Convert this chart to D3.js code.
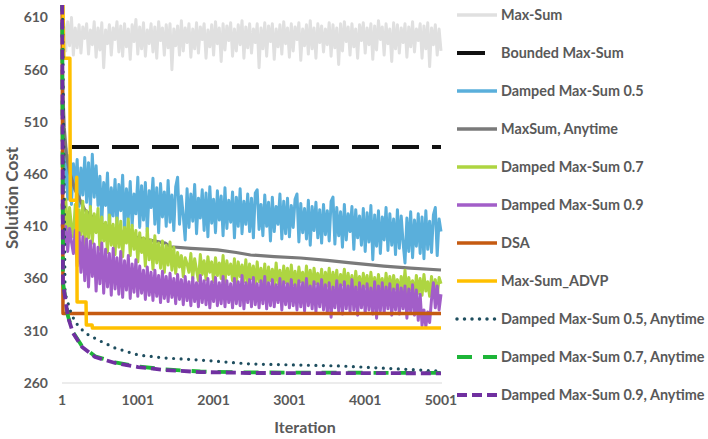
<!DOCTYPE html>
<html>
<head>
<meta charset="utf-8">
<script src="https://cdn.jsdelivr.net/npm/d3@7"></script>
<style>
  body { margin: 0; background: #fff; }
  text { font-family: Lato, "Open Sans", sans-serif; fill: #595959; font-weight: bold; }
</style>
</head>
<body>
<div id="svgDiv"></div>
<script>
// tick labels
var yTicks = [260, 310, 360, 410, 460, 510, 560, 610];
var xTicks = [1, 1001, 2001, 3001, 4001, 5001];

// noisy series, read every 25 iterations (1, 26, ..., 5001)
var maxSum = [592, 604, 578, 606, 583, 610, 574, 600, 581, 603, 576, 601, 590, 604, 575, 598, 584, 606, 572, 600,
  579, 605, 562, 598, 585, 603, 574, 600, 589, 606, 577, 602, 573, 604, 582, 599, 570, 603, 587, 608,
  575, 601, 580, 605, 573, 598, 585, 604, 577, 601, 571, 606, 588, 600, 574, 603, 581, 604, 560, 599,
  583, 602, 574, 607, 578, 600, 586, 604, 572, 599, 580, 605, 576, 601, 589, 604, 571, 598, 582, 603,
  574, 606, 585, 600, 568, 604, 579, 602, 588, 605, 573, 599, 578, 603, 584, 607, 571, 601, 581, 604,
  576, 599, 586, 604, 562, 600, 580, 605, 573, 602, 587, 604, 570, 599, 582, 603, 575, 606, 585, 600,
  572, 604, 578, 601, 589, 605, 569, 599, 583, 603, 575, 607, 580, 600, 571, 604, 586, 602, 577, 599,
  584, 605, 573, 603, 581, 600, 565, 604, 578, 606, 587, 601, 574, 604, 582, 599, 571, 603, 588, 605,
  576, 600, 584, 604, 570, 602, 579, 607, 589, 601, 574, 604, 585, 599, 568, 605, 580, 603, 576, 600,
  586, 604, 572, 601, 582, 606, 577, 599, 588, 604, 571, 602, 580, 605, 563, 600, 584, 603, 574, 599,
  578];

var damped05 = [482, 446, 485, 436, 478, 431, 470, 448, 474, 429, 466, 440, 476, 433, 471, 427, 479, 438, 468, 430,
  458, 414, 452, 430, 461, 408, 447, 420, 455, 411, 450, 425, 459, 406, 446, 418, 453, 410, 441, 422,
  457, 409, 449, 416, 452, 405, 444, 428, 456, 412, 447, 404, 451, 419, 443, 410, 454, 414, 440, 406,
  448, 457, 412, 439, 420, 397, 446, 409, 441, 415, 450, 403, 437, 418, 445, 406, 442, 400, 448, 413,
  436, 404, 444, 416, 439, 401, 447, 408, 435, 414, 443, 399, 438, 410, 446, 403, 434, 412, 441, 405,
  437, 399, 442, 445, 407, 431, 401, 440, 410, 433, 396, 438, 405, 429, 412, 441, 398, 434, 403, 437,
  400, 430, 409, 436, 441, 395, 432, 404, 427, 398, 435, 392, 429, 406, 433, 399, 426, 394, 431, 402,
  425, 396, 434, 438, 393, 428, 401, 424, 390, 431, 397, 422, 405, 429, 388, 426, 399, 420, 392, 427,
  386, 423, 395, 430, 378, 421, 391, 425, 384, 419, 397, 428, 387, 422, 392, 417, 383, 426, 389, 420,
  394, 375, 418, 386, 424, 380, 416, 391, 422, 384, 419, 379, 425, 388, 415, 385, 421, 428, 382, 417,
  405];

var damped07 = [432, 404, 436, 398, 428, 410, 400, 431, 395, 426, 402, 434, 392, 425, 399, 429, 394, 422, 404, 427,
  388, 419, 396, 414, 385, 421, 392, 412, 383, 418, 390, 415, 381, 409, 394, 417, 382, 411, 388, 406,
  376, 404, 385, 399, 372, 408, 378, 397, 369, 401, 375, 394, 370, 396, 366, 392, 373, 395, 368, 390,
  365, 385, 371, 382, 362, 380, 374, 366, 384, 360, 379, 368, 358, 383, 364, 377, 359, 381, 366, 376,
  357, 380, 363, 375, 360, 382, 356, 377, 364, 374, 358, 379, 355, 376, 362, 373, 357, 378, 354, 374,
  360, 372, 352, 376, 357, 370, 353, 374, 350, 371, 358, 369, 352, 375, 355, 368, 350, 372, 356, 370,
  351, 373, 354, 367, 349, 371, 357, 366, 350, 372, 353, 368, 348, 370, 355, 365, 351, 369, 347, 366,
  353, 370, 349, 366, 352, 368, 346, 364, 354, 369, 348, 365, 351, 363, 345, 367, 350, 362, 347, 365,
  352, 363, 345, 366, 349, 361, 346, 364, 351, 360, 344, 365, 348, 362, 345, 363, 350, 359, 343, 362,
  347, 368, 345, 361, 349, 358, 342, 363, 346, 360, 344, 364, 348, 357, 343, 362, 346, 359, 342, 361,
  355];

var damped09 = [412, 392, 410, 386, 408, 395, 384, 406, 372, 404, 366, 400, 358, 398, 352, 396, 362, 393, 348, 390,
  355, 394, 346, 388, 352, 384, 344, 389, 350, 380, 345, 386, 342, 377, 349, 382, 341, 374, 347, 378,
  343, 372, 346, 368, 340, 371, 344, 366, 339, 368, 343, 363, 337, 367, 341, 362, 338, 365, 342, 360,
  336, 364, 340, 359, 335, 362, 339, 357, 334, 361, 338, 356, 333, 363, 337, 358, 335, 360, 332, 357,
  338, 361, 334, 356, 336, 362, 333, 358, 337, 355, 332, 360, 336, 357, 334, 363, 331, 356, 337, 359,
  333, 361, 335, 355, 332, 358, 336, 362, 331, 356, 334, 359, 333, 354, 337, 360, 330, 357, 335, 355,
  332, 359, 334, 354, 330, 358, 333, 356, 329, 360, 334, 353, 331, 357, 328, 355, 333, 359, 330, 354,
  327, 356, 323, 352, 332, 358, 329, 354, 326, 357, 331, 353, 328, 359, 330, 352, 325, 356, 332, 353,
  327, 355, 330, 351, 326, 357, 322, 353, 329, 356, 327, 352, 331, 355, 325, 350, 330, 354, 326, 351,
  331, 353, 322, 350, 328, 354, 325, 349, 320, 345, 315, 330, 314, 328, 318, 340, 356, 332, 353, 330,
  345];

// smooth / step series: [iteration, cost]
var maxSumAnytime = [[1, 560], [30, 505], [60, 478], [100, 462], [173, 445], [300, 426],
  [477, 414], [700, 407], [1006, 399], [1363, 394], [1429, 390.5], [1700, 389],
  [2051, 387.5], [2300, 385], [2488, 382.6], [2800, 381], [3149, 379.7],
  [3500, 377.5], [3810, 375], [4247, 372], [4600, 370], [5001, 368.2]];
var boundedMaxSum = [[1, 486], [5001, 486]];
var dsa = [[1, 680], [14, 326.5], [5001, 326.5]];
var advp = [[1, 680], [25, 571], [105, 571], [110, 435], [190, 435], [195, 457],
  [200, 337.6], [318, 337.6], [322, 315.5], [398, 315.5], [402, 312.7], [5001, 312.7]];
var anytime05 = [[1, 680], [41, 346.2], [107, 329.9], [173, 318.4], [305, 307.9],
  [477, 301.2], [702, 293.5], [1006, 286.8], [1363, 283.9], [1826, 282],
  [2488, 278.2], [3679, 276.3], [4962, 271.5], [5001, 271.4]];
var anytime07 = [[1, 680], [14, 356.5], [80, 324], [146, 308.6], [266, 295.2], [437, 285.6],
  [702, 279.8], [1006, 275.9], [1363, 273], [1826, 271], [2488, 270.1], [5001, 269.6]];
var anytime09 = [[1, 680], [14, 355.8], [80, 323.2], [146, 307.9], [266, 294.5], [437, 284.9],
  [702, 279.2], [1006, 275.3], [1363, 272.4], [1826, 270.5], [2488, 269.6], [5001, 269.3]];

var svg, x, y;

document.addEventListener('DOMContentLoaded', function(){

    svg = d3.select("#svgDiv")
        .append("svg")
        .attr("width", 708)
        .attr("height", 439);

    x = d3.scaleLinear().domain([1, 5001]).range([62, 441]);
    y = d3.scaleLinear().domain([260, 622]).range([383, 5]);

    drawAxes();
    drawSeries();
    drawLegend();
});

//values are evenly spaced over iterations 1..5001
function noisyPoints(values){
    var step = 5000 / (values.length - 1);
    return values.map(function(v, i){ return [1 + step * i, v]; });
}

function seriesList(){
    return [
        {name: "Max-Sum", data: noisyPoints(maxSum), color: "#e0e0e0", width: 3},
        {name: "Bounded Max-Sum", data: boundedMaxSum, color: "#111111", width: 4, dash: "27 13", offset: 30, legendDash: true},
        {name: "Damped Max-Sum 0.5", data: noisyPoints(damped05), color: "#5aafdb", width: 3},
        {name: "MaxSum, Anytime", data: maxSumAnytime, color: "#7a7a7a", width: 3.2},
        {name: "Damped Max-Sum 0.7", data: noisyPoints(damped07), color: "#aed541", width: 3},
        {name: "Damped Max-Sum 0.9", data: noisyPoints(damped09), color: "#a25ec8", width: 3},
        {name: "DSA", data: dsa, color: "#c55a11", width: 3.5},
        {name: "Max-Sum_ADVP", data: advp, color: "#ffc000", width: 3.5},
        {name: "Damped Max-Sum 0.5, Anytime", data: anytime05, color: "#1f4e5f", width: 3.2, dash: "0 7.5", round: true},
        {name: "Damped Max-Sum 0.7, Anytime", data: anytime07, color: "#1db538", width: 3.8, dash: "15 11"},
        {name: "Damped Max-Sum 0.9, Anytime", data: anytime09, color: "#7030a0", width: 3.8, dash: "10 5"}
    ];
}

function drawAxes(){
    svg.append("line")
        .attr("x1", 62).attr("x2", 442)
        .attr("y1", y(260)).attr("y2", y(260))
        .attr("stroke", "#d9d9d9").attr("stroke-width", 1.2);

    svg.selectAll(".ytick")
        .data(yTicks)
        .enter().append("text")
        .attr("class", "ytick")
        .attr("x", 48)
        .attr("y", function(d){ return y(d); })
        .attr("dy", "0.35em")
        .attr("text-anchor", "end")
        .style("font-size", "14px")
        .text(function(d){ return d; });

    svg.selectAll(".xtick")
        .data(xTicks)
        .enter().append("text")
        .attr("class", "xtick")
        .attr("x", function(d){ return x(d); })
        .attr("y", 405)
        .attr("text-anchor", "middle")
        .style("font-size", "14px")
        .text(function(d){ return d; });

    svg.append("text")
        .attr("x", 305).attr("y", 433)
        .attr("text-anchor", "middle")
        .style("font-size", "16px")
        .text("Iteration");

    svg.append("text")
        .attr("transform", "translate(18,198) rotate(-90)")
        .attr("text-anchor", "middle")
        .style("font-size", "17px")
        .text("Solution Cost");
}

function drawSeries(){
    svg.append("clipPath").attr("id", "plotClip")
        .append("rect").attr("x", 55).attr("y", 5).attr("width", 395).attr("height", 385);

    var line = d3.line()
        .x(function(d){ return x(d[0]); })
        .y(function(d){ return y(d[1]); });

    var g = svg.append("g").attr("clip-path", "url(#plotClip)");

    seriesList().forEach(function(s){
        g.append("path")
            .datum(s.data)
            .attr("d", line)
            .attr("fill", "none")
            .attr("stroke", s.color)
            .attr("stroke-width", s.width)
            .attr("stroke-linejoin", "round")
            .attr("stroke-linecap", s.round ? "round" : "butt")
            .attr("stroke-dasharray", s.dash || null)
            .attr("stroke-dashoffset", s.offset || 0);
    });
}

function drawLegend(){
    var items = svg.selectAll(".legend")
        .data(seriesList())
        .enter().append("g")
        .attr("class", "legend")
        .attr("transform", function(d, i){ return "translate(0," + (15 + i * 38) + ")"; });

    items.append("line")
        .attr("x1", 457)
        .attr("x2", function(d){ return d.legendDash ? 485 : 497; })
        .attr("y1", 0).attr("y2", 0)
        .attr("stroke", function(d){ return d.color; })
        .attr("stroke-width", function(d){ return Math.max(d.width, 3.5); })
        .attr("stroke-linecap", function(d){ return d.round ? "round" : "butt"; })
        .attr("stroke-dasharray", function(d){ return d.legendDash ? null : (d.dash || null); });

    items.append("text")
        .attr("x", 501)
        .attr("y", 0)
        .attr("dy", "0.36em")
        .style("font-size", "14.4px")
        .text(function(d){ return d.name; });
}
</script>
</body>
</html>
